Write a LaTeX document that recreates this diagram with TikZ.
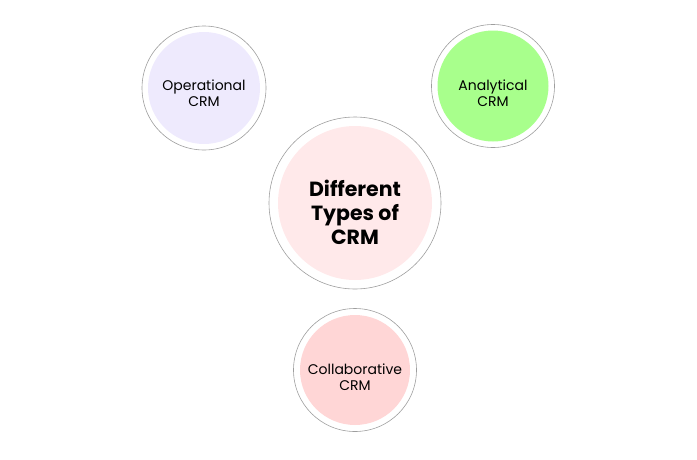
\documentclass[tikz,border=0pt]{standalone}
\usepackage{fontspec}
\setmainfont{Poppins}
\usetikzlibrary{positioning}

\definecolor{ringgray}{RGB}{158,158,158}
\definecolor{oplav}{RGB}{238,234,253}
\definecolor{angreen}{RGB}{168,255,140}
\definecolor{typpink}{RGB}{255,233,234}
\definecolor{colpink}{RGB}{255,214,214}

\begin{document}
\begin{tikzpicture}[
		x=1pt, y=-1pt,
		ring/.style={circle, draw=ringgray, line width=0.6pt, minimum size=#1, inner sep=0pt},
		disc/.style 2 args={path picture={\fill[#1] (path picture bounding box.center) circle (#2);}},
		small/.style={align=center, font=\fontsize{14}{16}\selectfont},
		big/.style={align=center, font=\fontsize{20.5}{24}\selectfont\bfseries},
	]
		\useasboundingbox (0,0) rectangle (697,459);
		
		\node [ring=124pt, disc={oplav}{56pt}] (op) at (204,88) {};
		\node [small] (optxt) at ([yshift=-5.5pt]op.center) {Operational\\CRM};
		
		\node [ring=123pt, disc={angreen}{55.5pt}] (an) at (493,86) {};
		\node [small] (antxt) at ([yshift=-7pt]an.center) {Analytical\\CRM};
		
		\node [ring=172pt, disc={typpink}{77pt}] (typ) at (355,203) {};
		\node [big] (typtxt) at ([yshift=-9pt]typ.center) {Different\\Types of\\CRM};
		
		\node [ring=123pt, disc={colpink}{55pt}] (col) at (355,370) {};
		\node [small] (coltxt) at ([yshift=-7pt]col.center) {Collaborative\\CRM};
	\end{tikzpicture}
\end{document}
